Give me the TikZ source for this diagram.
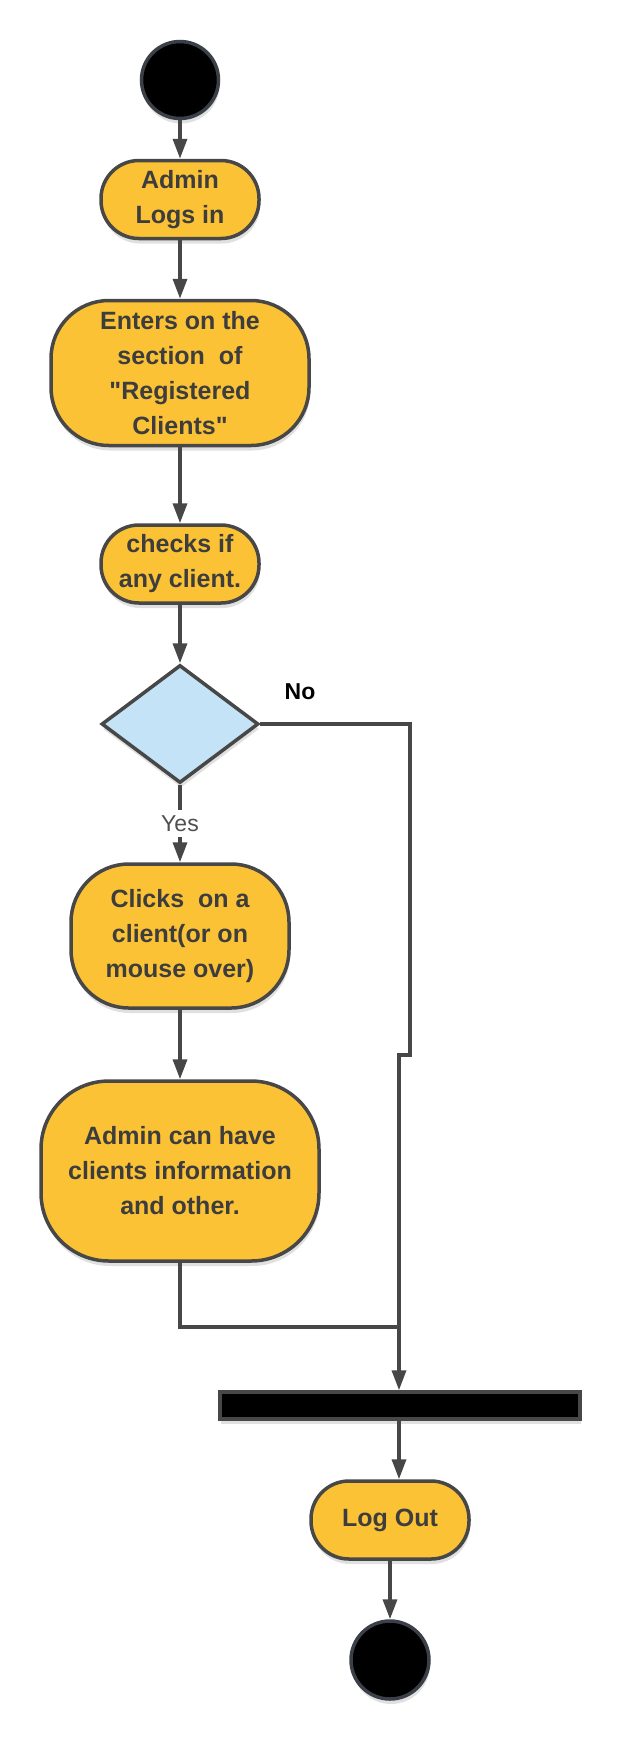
\documentclass[tikz,border=0pt]{standalone}
\usepackage{fontspec}
\setmainfont{Liberation Sans}[Ligatures=TeXOff]
\usetikzlibrary{shapes.geometric,arrows.meta,shadows}
\definecolor{gelb}{HTML}{FBC236}
\definecolor{linie}{HTML}{474747}
\definecolor{rand}{HTML}{3B4048}
\definecolor{blau}{HTML}{C5E3F6}
\definecolor{schrift}{HTML}{3D3D3D}
\tikzset{
  schatten/.style={drop shadow={shadow xshift=1pt,shadow yshift=-5pt,opacity=0.12,fill=black}},
  aktion/.style={draw=linie, line width=3.5pt, fill=gelb, rounded corners=#1, align=center,
    text=schrift, font=\fontsize{25}{35}\selectfont\bfseries, inner sep=0pt, schatten},
  aktion/.default=38pt,
  punkt/.style={circle, draw=rand, line width=3.5pt, fill=black, inner sep=0pt, minimum size=#1, schatten},
  entscheid/.style={diamond, draw=linie, line width=3.5pt, fill=blau, inner sep=0pt, schatten},
  balken/.style={draw=linie, line width=3.5pt, fill=black, inner sep=0pt, schatten},
  pfeil/.style={draw=linie, line width=3.5pt, -{Triangle[length=20pt,width=14pt]}},
  kante/.style={draw=linie, line width=3.5pt},
}
\begin{document}
\begin{tikzpicture}[x=1pt,y=-1pt]
\useasboundingbox (0,0) rectangle (620,1740);
% Knoten
\node[punkt=77pt] (start) at (180,80) {};
\node[aktion, minimum width=158pt, minimum height=78pt] (login) at (180,199.5) {Admin\\Logs in};
\node[aktion=58pt, minimum width=258pt, minimum height=145pt] (enter) at (180,373) {Enters on the\\section\ \ of\\"Registered\\Clients"};
\node[aktion, minimum width=158pt, minimum height=78pt] (check) at (180,564) {checks if\\any client.};
\node[entscheid, minimum width=157pt, minimum height=118pt] (dec) at (180,724) {};
\node[aktion=58pt, minimum width=218pt, minimum height=144pt] (click) at (180,936) {Clicks\ \ on a\\client(or on\\mouse over)};
\node[aktion=68pt, minimum width=278pt, minimum height=180pt] (info) at (180,1171) {Admin can have\\clients information\\and other.};
\node[balken, minimum width=360pt, minimum height=27pt] (bar) at (400,1405.5) {};
\node[aktion, minimum width=158pt, minimum height=78pt] (logout) at (390,1520) {Log Out};
\node[punkt=78pt] (ende) at (390,1660) {};
\coordinate (nor) at (410,1055);
\coordinate (nol) at (399,1055);
\coordinate (merge) at (399,1327);
% Pfeile
\draw[pfeil] (start) -- (login);
\draw[pfeil] (login) -- (enter);
\draw[pfeil] (enter) -- (check);
\draw[pfeil] (check) -- (dec);
\draw[pfeil] (dec) -- node[fill=white, inner xsep=2pt, inner ysep=5pt, text=schrift!90, font=\fontsize{23}{27}\selectfont] (yes) {Yes} (click);
\draw[pfeil] (click) -- (info);
\draw[kante] (info) |- (merge);
\draw[pfeil] (dec.east) -| (nor) -- (nol) -- (nol |- bar.north);
\draw[pfeil] (bar.south -| nol) -- (nol |- logout.north);
\draw[pfeil] (logout) -- (ende);
% Beschriftungen
\node[font=\fontsize{23}{27}\selectfont\bfseries] (no) at (300,692) {No};
\end{tikzpicture}
\end{document}
